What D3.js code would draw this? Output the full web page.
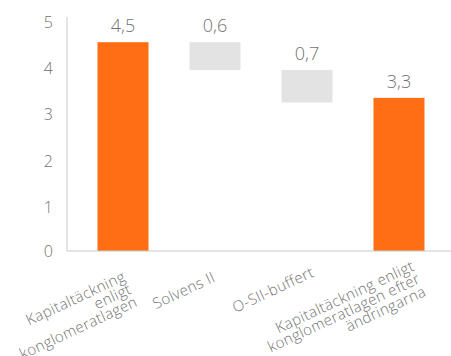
<!DOCTYPE html>
<html>
<head>
<meta charset="utf-8">
<script src="https://cdn.jsdelivr.net/npm/d3@7"></script>
<style>
  html, body { margin: 0; padding: 0; background: #fff; }
  svg text { font-family: "Open Sans", "Noto Sans", sans-serif; font-weight: 300; fill: #737373; }
</style>
</head>
<body>
<div id="chart"></div>
<script>
// waterfall data
const categories = [
    "Kapitaltäckning\nenligt\nkonglomeratlagen",
    "Solvens II",
    "O-SII-buffert",
    "Kapitaltäckning enligt\nkonglomeratlagen efter\nändringarna"
];
const values = [4.5, -0.6, -0.7, 3.3];
const barTypes = ["total", "delta", "delta", "total"];
const yTicks = [0, 1, 2, 3, 4, 5];

const width = 451, height = 356;
const colors = { total: "#ff6e14", delta: "#e3e3e3" };

// build start/end of each bar
let running = 0;
const bars = categories.map((c, i) => {
    let y0, y1;
    if (barTypes[i] === "total") {
        y0 = 0; y1 = values[i]; running = values[i];
    } else {
        y0 = running; y1 = running + values[i]; running = y1;
    }
    return { cat: c, y0: y0, y1: y1, value: values[i] };
});

const svg = d3.select("#chart")
    .append("svg")
    .attr("width", width)
    .attr("height", height);

const x = d3.scaleBand()
    .domain(categories)
    .range([77, 445])
    .paddingInner(0.4457)
    .paddingOuter(0.2228);

const y = d3.scaleLinear()
    .domain([0, 5])
    .range([251, 19]);

// y axis line + labels (no tick marks)
svg.append("line")
    .attr("x1", 67).attr("x2", 67)
    .attr("y1", y(5) - 2).attr("y2", y(0))
    .attr("stroke", "#c9c9c9");

svg.selectAll(".ytick")
    .data(yTicks)
    .enter()
    .append("text")
    .attr("class", "ytick")
    .attr("x", 53)
    .attr("y", d => y(d) + (d === 0 ? 0 : 3))
    .attr("dy", "0.35em")
    .attr("text-anchor", "end")
    .style("font-size", "16px")
    .text(d => d);

// bars
svg.selectAll(".bar")
    .data(bars)
    .enter()
    .append("rect")
    .attr("class", "bar")
    .attr("x", d => x(d.cat))
    .attr("width", x.bandwidth())
    .attr("y", d => y(Math.max(d.y0, d.y1)))
    .attr("height", d => Math.abs(y(d.y0) - y(d.y1)))
    .attr("fill", (d, i) => colors[barTypes[i]]);

// baseline
svg.append("line")
    .attr("x1", 67).attr("x2", width)
    .attr("y1", y(0)).attr("y2", y(0))
    .attr("stroke", "#c9c9c9");

// value labels above bars
svg.selectAll(".val")
    .data(bars)
    .enter()
    .append("text")
    .attr("class", "val")
    .attr("x", d => x(d.cat) + x.bandwidth() / 2)
    .attr("y", d => y(Math.max(d.y0, d.y1)) - 10)
    .attr("text-anchor", "middle")
    .style("font-size", "18px")
    .text(d => Math.abs(d.value).toFixed(1).replace(".", ","));

// rotated category labels, right aligned
const catG = svg.selectAll(".cat")
    .data(categories)
    .enter()
    .append("g")
    .attr("class", "cat");

const catText = catG.append("text")
    .attr("text-anchor", "end")
    .style("font-size", "15px")
    .style("letter-spacing", "0.4px");

catText.each(function (d) {
    const lines = d.split("\n");
    d3.select(this).selectAll("tspan")
        .data(lines)
        .enter()
        .append("tspan")
        .attr("x", 0)
        .attr("dy", (l, i) => i === 0 ? 0 : 14)
        .text(l => l);
});

// excel-ish placement: longer first lines sit further right / higher
catG.each(function (d) {
    const g = d3.select(this);
    const n = d.split("\n").length;
    const first = g.select("tspan").node().getComputedTextLength();
    const cx = x(d) + x.bandwidth() / 2;
    let px = cx - 20 + 0.32 * first - 6 * (n - 1);
    const py = 297 - 0.24 * first + 4.5 * (n - 1);
    g.attr("transform", `translate(${px},${py}) rotate(-25)`);
    // keep it inside the left edge
    const left = this.getBoundingClientRect().left;
    if (left < 4) {
        px += 4 - left;
        g.attr("transform", `translate(${px},${py}) rotate(-25)`);
    }
});
</script>
</body>
</html>
